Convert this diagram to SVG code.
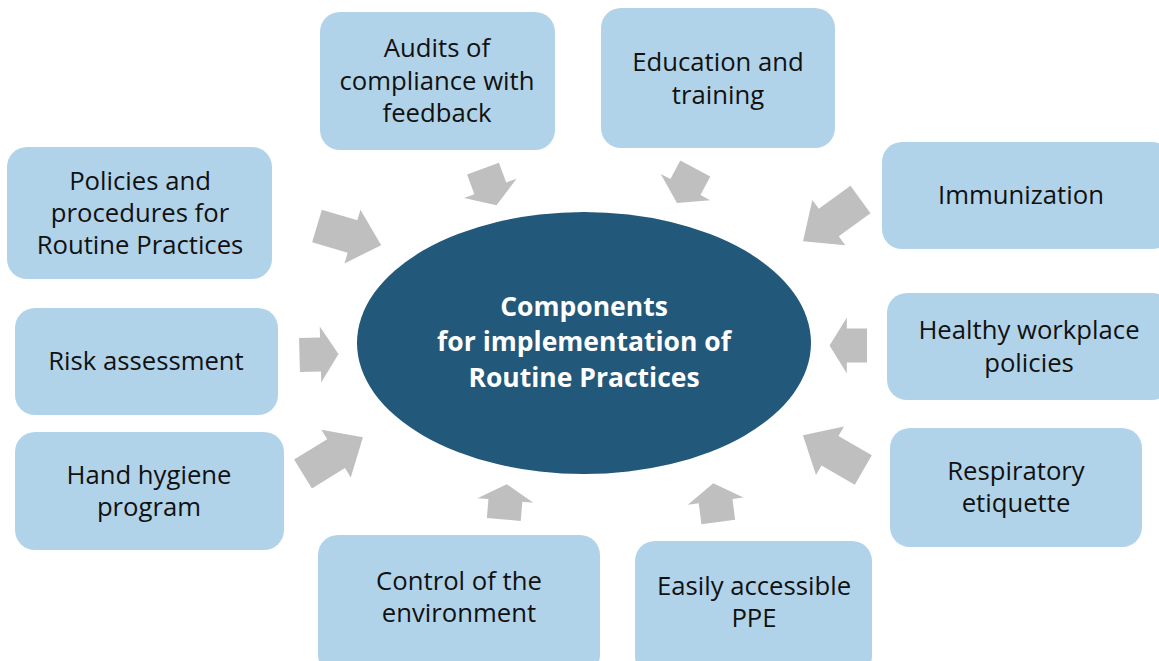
<svg xmlns="http://www.w3.org/2000/svg" width="1159" height="661" viewBox="0 0 1159 661">
  <style>
    .box { fill: #B1D3E9; }
    .lbl { font-family: "Open Sans", "Noto Sans", sans-serif; font-size: 25.7px; fill: #111; text-anchor: middle; }
    .hub { fill: #22587A; }
    .hubtxt { font-family: "Open Sans", "Noto Sans", sans-serif; font-size: 26.5px; font-weight: bold; fill: #fff; text-anchor: middle; }
    .arw { fill: #BFBFBF; }
  </style>
  <defs>
    <!-- block arrows, tail at origin, pointing along +x -->
    <path id="arrShort" d="M0,-17 H21 V-28 L39,0 L21,28 V17 H0 Z"/>
    <path id="arrLong" d="M0,-17 H37 V-28 L67,0 L37,28 V17 H0 Z"/>
  </defs>
  <rect width="1159" height="661" fill="#fff"/>

  <g id="connectors" class="arw">
    <use href="#arrLong" transform="translate(317,226) rotate(16.6)"/>
    <use href="#arrShort" transform="translate(483,168.7) rotate(69.7)"/>
    <use href="#arrShort" transform="translate(695.3,168.5) rotate(118)"/>
    <use href="#arrLong" transform="translate(860.5,199.5) rotate(144) scale(1.06,1)"/>
    <use href="#arrShort" transform="translate(299.5,355) rotate(-1.5)"/>
    <use href="#arrShort" transform="translate(867,345.5) rotate(180) scale(0.96,1)"/>
    <use href="#arrLong" transform="translate(303,474) rotate(-31.6) scale(1.05,1)"/>
    <use href="#arrLong" transform="translate(863.3,470) rotate(-150) scale(1.04,1)"/>
    <use href="#arrShort" transform="translate(503.8,519.5) rotate(-85.3) scale(0.91,1)"/>
    <use href="#arrShort" transform="translate(718.3,522) rotate(-97.4) scale(1,1)"/>
  </g>

  <g id="hub">
    <ellipse class="hub" cx="584" cy="343" rx="227" ry="131"/>
    <text class="hubtxt"><tspan x="584" y="316">Components</tspan><tspan x="584" y="351">for implementation of</tspan><tspan x="584" y="387">Routine Practices</tspan></text>
  </g>

  <g id="audits">
    <rect class="box" x="320" y="12" width="235" height="138" rx="20"/>
    <text class="lbl"><tspan x="437" y="57">Audits of</tspan><tspan x="437" y="90">compliance with</tspan><tspan x="437" y="122">feedback</tspan></text>
  </g>
  <g id="education">
    <rect class="box" x="601" y="8" width="234" height="140" rx="20"/>
    <text class="lbl"><tspan x="718" y="71">Education and</tspan><tspan x="718" y="104">training</tspan></text>
  </g>
  <g id="policies">
    <rect class="box" x="7" y="147" width="265" height="132" rx="20"/>
    <text class="lbl"><tspan x="140" y="190">Policies and</tspan><tspan x="140" y="222">procedures for</tspan><tspan x="140" y="254">Routine Practices</tspan></text>
  </g>
  <g id="immunization">
    <rect class="box" x="882" y="142" width="290" height="107" rx="20"/>
    <text class="lbl" x="1021" y="204">Immunization</text>
  </g>
  <g id="risk">
    <rect class="box" x="15" y="308" width="263" height="107" rx="20"/>
    <text class="lbl" x="146" y="370">Risk assessment</text>
  </g>
  <g id="workplace">
    <rect class="box" x="887" y="293" width="285" height="107" rx="20"/>
    <text class="lbl"><tspan x="1029" y="339">Healthy workplace</tspan><tspan x="1029" y="372">policies</tspan></text>
  </g>
  <g id="hand-hygiene">
    <rect class="box" x="15" y="432" width="269" height="118" rx="20"/>
    <text class="lbl"><tspan x="149" y="484">Hand hygiene</tspan><tspan x="149" y="516">program</tspan></text>
  </g>
  <g id="respiratory">
    <rect class="box" x="890" y="428" width="252" height="119" rx="20"/>
    <text class="lbl"><tspan x="1016" y="480">Respiratory</tspan><tspan x="1016" y="512">etiquette</tspan></text>
  </g>
  <g id="environment">
    <rect class="box" x="318" y="535" width="282" height="140" rx="20"/>
    <text class="lbl"><tspan x="459" y="590">Control of the</tspan><tspan x="459" y="622">environment</tspan></text>
  </g>
  <g id="ppe">
    <rect class="box" x="635" y="541" width="237" height="135" rx="20"/>
    <text class="lbl"><tspan x="754" y="595">Easily accessible</tspan><tspan x="754" y="627">PPE</tspan></text>
  </g>
</svg>
